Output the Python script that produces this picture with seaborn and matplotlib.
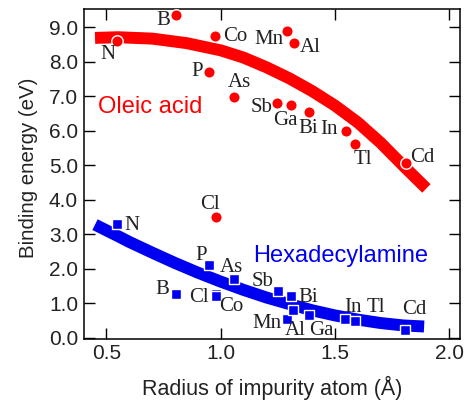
import numpy as np
import pandas as pd
import matplotlib
matplotlib.use("Agg")
import matplotlib.pyplot as plt
from matplotlib.ticker import FormatStrFormatter
import seaborn as sns

# Oleic acid ligand: binding energy of each impurity atom
oleic_elements = ["N", "B", "Co", "P", "As", "Mn", "Al", "Sb", "Ga", "Bi", "In", "Tl", "Cd", "Cl"]
oleic_radius = [0.548, 0.806, 0.977, 0.948, 1.057, 1.288, 1.320, 1.247, 1.308, 1.387, 1.548, 1.586, 1.809, 0.979]
oleic_energy = [8.61, 9.35, 8.74, 7.70, 6.98, 8.88, 8.54, 6.80, 6.74, 6.54, 6.00, 5.63, 5.07, 3.49]

# Hexadecylamine ligand
hda_elements = ["N", "P", "As", "B", "Cl", "Co", "Sb", "Bi", "Mn", "Al", "Ga", "In", "Tl", "Cd"]
hda_radius = [0.548, 0.949, 1.057, 0.806, 0.980, 0.980, 1.249, 1.308, 1.288, 1.317, 1.387, 1.542, 1.587, 1.806]
hda_energy = [3.29, 2.11, 1.70, 1.26, 1.27, 1.22, 1.37, 1.21, 0.54, 0.81, 0.65, 0.54, 0.49, 0.23]

# Trend curves through each series
oleic_trend_r = [0.45, 0.55, 0.70, 0.85, 1.00, 1.10, 1.20, 1.30, 1.40, 1.50, 1.60, 1.70, 1.80, 1.90]
oleic_trend_e = [8.69, 8.71, 8.67, 8.54, 8.33, 8.12, 7.84, 7.52, 7.15, 6.73, 6.24, 5.65, 4.98, 4.33]
hda_trend_r = [0.45, 0.55, 0.60, 0.70, 0.80, 0.90, 1.00, 1.10, 1.20, 1.30, 1.40, 1.50, 1.60, 1.70, 1.80, 1.89]
hda_trend_e = [3.28, 2.95, 2.78, 2.47, 2.17, 1.89, 1.63, 1.39, 1.17, 0.98, 0.80, 0.65, 0.53, 0.43, 0.36, 0.33]

x_ticks = [0.5, 1.0, 1.5, 2.0]
y_ticks = [0, 1, 2, 3, 4, 5, 6, 7, 8, 9]

# Label placement (pixel offsets from each marker)
oleic_offsets = {
    "N": (-9, -14), "B": (-13, -5), "Co": (20, 0), "P": (-12, 1), "As": (6, 14),
    "Mn": (-18, -8), "Al": (16, -4), "Sb": (-16, -4), "Ga": (-6, -15), "Bi": (-1, -16),
    "In": (-17, 1), "Tl": (8, -16), "Cd": (17, 5), "Cl": (-6, 13),
}
hda_offsets = {
    "N": (15, -1), "P": (-8, 10), "As": (-2, 12), "B": (-14, 5), "Cl": (-17, -3),
    "Co": (15, -11), "Sb": (-15, 9), "Bi": (17, -1), "Mn": (-20, -4), "Al": (2, -21),
    "Ga": (12, -15), "In": (8, 12), "Tl": (21, 13), "Cd": (9, 20),
}

sns.set_style("ticks")
plt.rcParams["font.family"] = ["Liberation Sans", "DejaVu Sans"]

RED = "#ff0000"
BLUE = "#0000f0"
TXT = "#222222"

oleic = pd.DataFrame({"element": oleic_elements, "radius": oleic_radius, "energy": oleic_energy})
hda = pd.DataFrame({"element": hda_elements, "radius": hda_radius, "energy": hda_energy})
oleic_trend = pd.DataFrame({"radius": oleic_trend_r, "energy": oleic_trend_e})
hda_trend = pd.DataFrame({"radius": hda_trend_r, "energy": hda_trend_e})

fig = plt.figure(figsize=(4.67, 4.03), dpi=100)
ax = fig.add_axes([0.179, 0.159, 0.806, 0.818])

line_kw = dict(estimator=None, sort=False, linewidth=8.6, solid_capstyle="butt", legend=False, ax=ax)
sns.lineplot(data=oleic_trend, x="radius", y="energy", color=RED, zorder=2, **line_kw)
sns.lineplot(data=hda_trend, x="radius", y="energy", color=BLUE, zorder=2, **line_kw)

sns.scatterplot(data=oleic, x="radius", y="energy", color=RED, marker="o", s=68,
                edgecolor="white", linewidth=1.0, zorder=3, legend=False, ax=ax)
sns.scatterplot(data=hda, x="radius", y="energy", color=BLUE, marker="s", s=60,
                edgecolor="white", linewidth=1.0, zorder=3, legend=False, ax=ax)

for df, offsets in ((oleic, oleic_offsets), (hda, hda_offsets)):
    for el, r, e in zip(df["element"], df["radius"], df["energy"]):
        dx, dy = offsets[el]
        ax.annotate(el, (r, e), xytext=(dx, dy), textcoords="offset pixels",
                    ha="center", va="center", fontsize=15, color=TXT,
                    family=["Liberation Serif", "DejaVu Serif"],
                    annotation_clip=False, clip_on=True, zorder=4)

ax.text(0.69, 6.68, "Oleic acid", color=RED, fontsize=17, ha="center", va="center")
ax.text(1.525, 2.38, "Hexadecylamine", color=BLUE, fontsize=17, ha="center", va="center")

ax.set_xlim(0.40, 2.047)
ax.set_ylim(-0.03, 9.52)
ax.set_xticks(x_ticks)
ax.set_yticks(y_ticks)
ax.xaxis.set_major_formatter(FormatStrFormatter("%.1f"))
ax.yaxis.set_major_formatter(FormatStrFormatter("%.1f"))
ax.tick_params(direction="in", length=8, width=1.0, labelsize=15, colors="black",
               labelcolor=TXT, top=True, right=True, pad=4)

ax.set_xlabel("Radius of impurity atom (Å)", fontsize=15.5, color=TXT, labelpad=9)
ax.set_ylabel("Binding energy (eV)", fontsize=14.7, color=TXT)
ax.yaxis.set_label_coords(-0.122, 0.52)

for sp in ax.spines.values():
    sp.set_visible(True)
    sp.set_linewidth(1.1)
    sp.set_color("black")

fig.savefig("out.png", dpi=100)
